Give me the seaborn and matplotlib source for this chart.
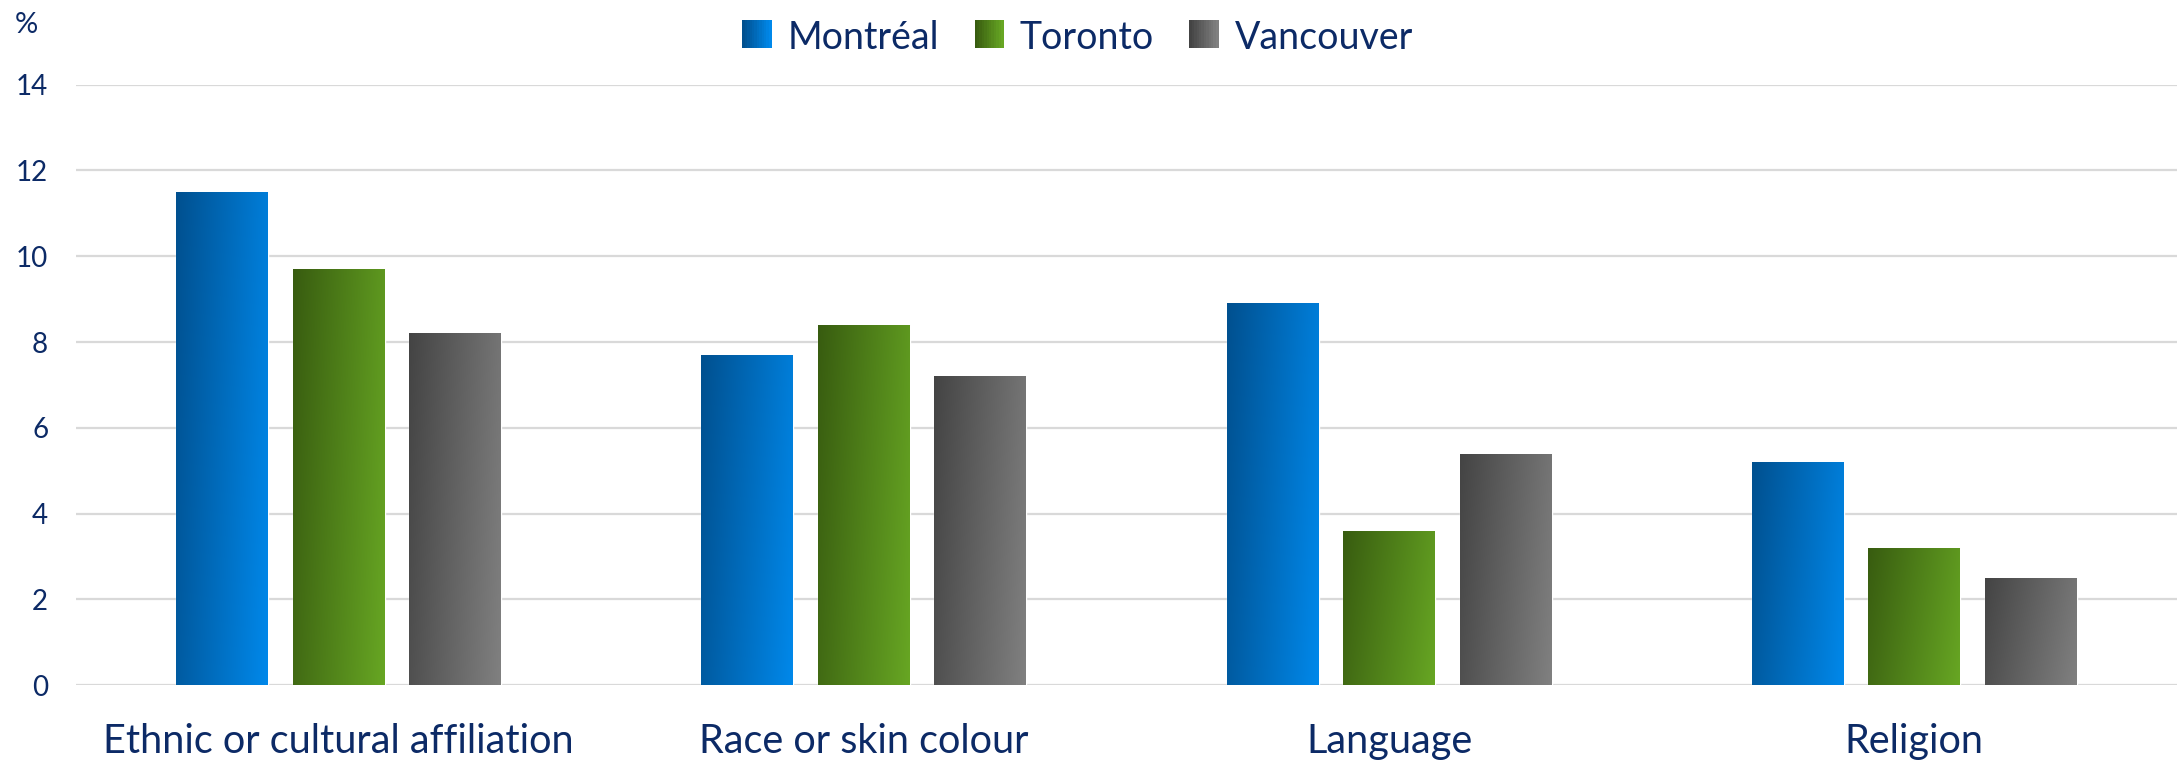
import numpy as np
import pandas as pd
import matplotlib
matplotlib.use("Agg")
import matplotlib.pyplot as plt
import matplotlib.colors as mcolors
from matplotlib.patches import Rectangle
import seaborn as sns

# ── Data ─────────────────────────────────────────────────────
categories = ["Ethnic or cultural affiliation", "Race or skin colour", "Language", "Religion"]
cities = ["Montréal", "Toronto", "Vancouver"]
montreal = [11.5, 7.7, 8.9, 5.2]
toronto = [9.7, 8.4, 3.6, 3.2]
vancouver = [8.2, 7.2, 5.4, 2.5]
y_ticks = [0, 2, 4, 6, 8, 10, 12, 14]

# gradient ends per city (dark top-left -> light bottom-right)
grad = {
    "Montréal": ("#00508F", "#0088EA"),
    "Toronto": ("#385C10", "#67A623"),
    "Vancouver": ("#444444", "#808080"),
}
text_col = "#0C2A66"
grid_col = "#D9D9D9"

df = pd.DataFrame({
    "category": categories * 3,
    "city": [c for c in cities for _ in categories],
    "value": montreal + toronto + vancouver,
})

sns.set_theme(style="white")
plt.rcParams["font.family"] = ["Lato", "DejaVu Sans"]

fig = plt.figure(figsize=(21.77, 7.63), dpi=100)
ax = fig.add_axes([0.0349, 0.102, 0.9651, 0.787])

mid = {c: mcolors.to_hex(np.mean([mcolors.to_rgb(a) for a in grad[c]], axis=0)) for c in cities}
sns.barplot(data=df, x="category", y="value", hue="city", hue_order=cities,
            order=categories, palette=mid, width=0.665, gap=0.21,
            legend=False, ax=ax, zorder=3)


def gradient_img(c1, c2, n=64):
    xs = np.linspace(0, 1, n)
    ys = np.linspace(0, 1, n)
    X, Y = np.meshgrid(xs, ys)
    t = np.clip(0.8 * X + 0.2 * Y, 0, 1)  # Y=0 at top (origin upper)
    a = np.array(mcolors.to_rgb(c1))
    b = np.array(mcolors.to_rgb(c2))
    return a[None, None, :] * (1 - t[..., None]) + b[None, None, :] * t[..., None]


# overlay gradient on every bar, clipped to its patch
for city, cont in zip(cities, ax.containers):
    img = gradient_img(*grad[city])
    for bar in cont:
        x0, y0 = bar.get_x(), bar.get_y()
        w, h = bar.get_width(), bar.get_height()
        im = ax.imshow(img, extent=(x0, x0 + w, y0, y0 + h), origin="upper",
                       aspect="auto", zorder=4, interpolation="bilinear")
        im.set_clip_path(bar)

ax.set_xlim(-0.5, len(categories) - 0.5)
ax.set_ylim(0, 14)
ax.set_yticks(y_ticks)
ax.yaxis.grid(True, color=grid_col, linewidth=1.6, zorder=0)
ax.xaxis.grid(False)
for s in ax.spines.values():
    s.set_visible(False)
ax.set_xlabel("")
ax.set_ylabel("")
ax.tick_params(axis="y", labelsize=20, colors=text_col, length=0, pad=20)
ax.tick_params(axis="x", labelsize=28.5, colors=text_col, length=0, pad=27)
for lbl in ax.get_yticklabels() + ax.get_xticklabels():
    lbl.set_color(text_col)

fig.text(0.007, 0.967, "%", fontsize=21, color=text_col, va="center", ha="left")


# legend with small gradient squares
class GradHandler:
    def __init__(self, c1, c2):
        self.c1, self.c2 = c1, c2

    def legend_artist(self, legend, orig_handle, fontsize, handlebox):
        x0, y0 = handlebox.xdescent, handlebox.ydescent
        w = h = handlebox.height * 1.05
        n = 12
        a = np.array(mcolors.to_rgb(self.c1))
        b = np.array(mcolors.to_rgb(self.c2))
        for i in range(n):
            t = i / (n - 1)
            r = Rectangle((x0 + w * i / n, y0), w / n + 0.3, h,
                          facecolor=a * (1 - t) + b * t, edgecolor="none",
                          transform=handlebox.get_transform())
            handlebox.add_artist(r)
        return r


handles = [Rectangle((0, 0), 1, 1) for _ in cities]
hmap = {h: GradHandler(*grad[c]) for h, c in zip(handles, cities)}
leg = fig.legend(handles, cities, handler_map=hmap, loc="center",
                 bbox_to_anchor=(0.495, 0.95), ncol=3, frameon=False,
                 fontsize=27, handlelength=0.75, handleheight=0.75,
                 handletextpad=0.45, columnspacing=0.95)
for t in leg.get_texts():
    t.set_color(text_col)

fig.savefig("out.png", dpi=100)
